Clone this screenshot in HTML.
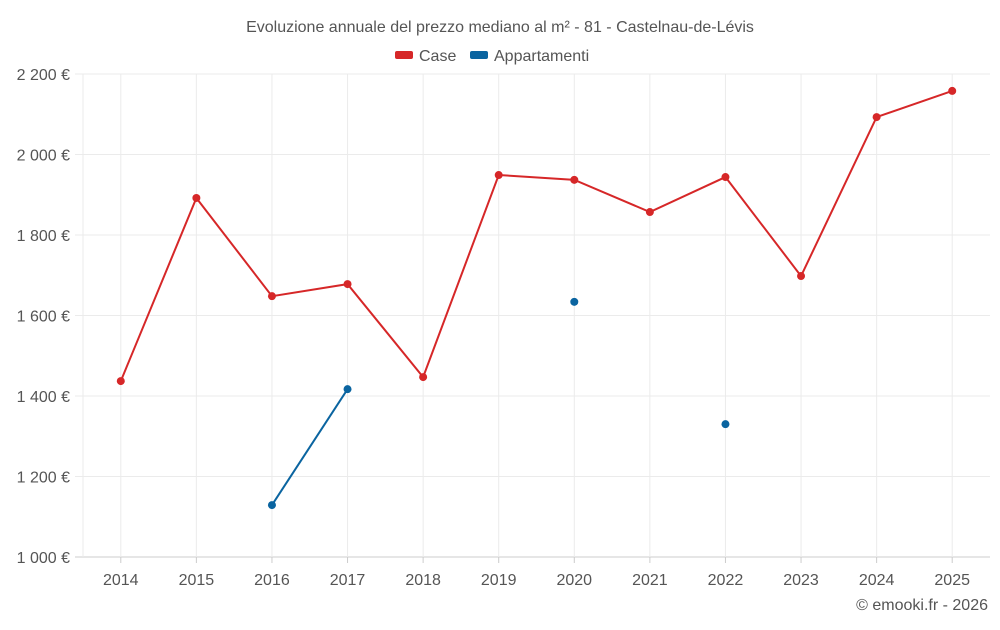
<!DOCTYPE html>
<html><head><meta charset="utf-8"><style>
body{margin:0;background:#fff;font-family:"Liberation Sans",sans-serif;}
svg text{font-family:"Liberation Sans",sans-serif;}
</style></head><body>
<svg id="chart" width="1000" height="625">
<text x="500" y="32" text-anchor="middle" font-size="16" fill="#555">Evoluzione annuale del prezzo mediano al m² - 81 - Castelnau-de-Lévis</text>
<g>
<g><rect x="395" y="51" width="18" height="8" rx="2" fill="#d62728"/><text x="419" y="61" font-size="16" fill="#555">Case</text></g>
<g><rect x="470" y="51" width="18" height="8" rx="2" fill="#0a64a0"/><text x="494" y="61" font-size="16" fill="#555">Appartamenti</text></g>
</g>
<g id="grid"></g>
<g id="axes"></g>
<g id="series"></g>
<text x="988" y="610" text-anchor="end" font-size="16" fill="#555">© emooki.fr - 2026</text>
</svg>
<script>
const categories=["2014","2015","2016","2017","2018","2019","2020","2021","2022","2023","2024","2025"];
const caseValues=[1437,1892,1648,1678,1447,1949,1937,1857,1944,1698,2093,2158];
const appValues=[null,null,1129,1417,null,null,1634,null,1330,null,null,null];
const yTicks=[1000,1200,1400,1600,1800,2000,2200];
const yTickLabels=["1 000 €","1 200 €","1 400 €","1 600 €","1 800 €","2 000 €","2 200 €"];
const NS="http://www.w3.org/2000/svg";
const L=83,R=990,T=74,B=557,yMin=1000,yMax=2200;
const step=(R-L)/categories.length;
function xs(i){return L+step*(i+0.5);}
function ys(v){return B-(v-yMin)/(yMax-yMin)*(B-T);}
function mk(tag,attrs,parent){const e=document.createElementNS(NS,tag);for(const k in attrs)e.setAttribute(k,attrs[k]);parent.appendChild(e);return e;}
const grid=document.getElementById('grid'),axes=document.getElementById('axes'),series=document.getElementById('series');
yTicks.forEach((t,i)=>{
  const y=ys(t);
  const gl=mk('line',{x1:75,x2:R,y1:y,y2:y,stroke:i===0?'#ccc':'#ebebeb','stroke-width':1},grid);
  
  
  const tx=mk('text',{x:70,y:y+6,'text-anchor':'end','font-size':16,fill:'#555'},axes);
  tx.textContent=yTickLabels[i];
  
  
});
const edge=mk('line',{x1:L,x2:L,y1:T,y2:B,stroke:'#ebebeb','stroke-width':1},grid);


categories.forEach((c,i)=>{
  const gl=mk('line',{x1:xs(i),x2:xs(i),y1:T,y2:B,stroke:'#ebebeb','stroke-width':1},grid);
  
  
  const tk=mk('line',{x1:xs(i),x2:xs(i),y1:B,y2:B+6,stroke:'#ccc'},axes);
  
  
  const tx=mk('text',{x:xs(i),y:585,'text-anchor':'middle','font-size':16,fill:'#555'},axes);
  tx.textContent=c;
  
  
});
function drawSeries(vals,color,name){
  let seg=[];
  const segs=[];
  vals.forEach((v,i)=>{if(v==null){if(seg.length)segs.push(seg);seg=[];}else seg.push([xs(i),ys(v)]);});
  if(seg.length)segs.push(seg);
  segs.forEach(s=>{if(s.length>1){
    const p=mk('polyline',{points:s.map(q=>q.join(',')).join(' '),fill:'none',stroke:color,'stroke-width':2},series);
    
    
  }});
  vals.forEach((v,i)=>{if(v==null)return;
    const c=mk('circle',{cx:xs(i),cy:ys(v),r:4,fill:color},series);
    
    
  });
}
drawSeries(caseValues,'#d62728','case');
drawSeries(appValues,'#0a64a0','appartamenti');
</script>
</body></html>
